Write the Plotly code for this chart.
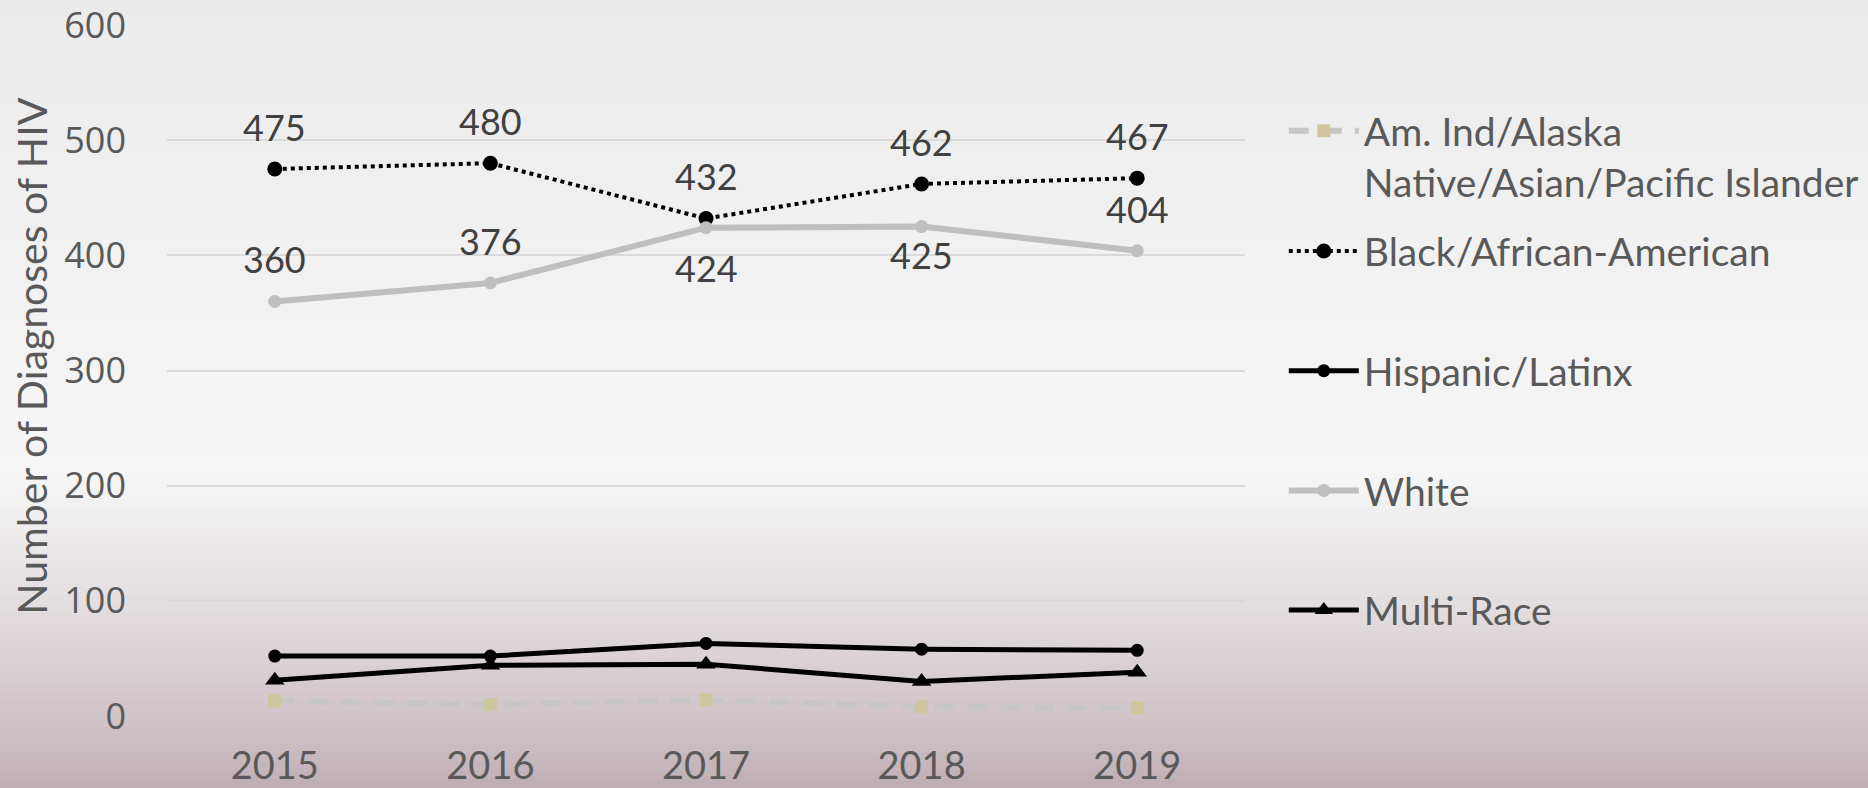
import plotly.graph_objects as go

# Annual new HIV diagnoses by race / ethnicity
years = ["2015", "2016", "2017", "2018", "2019"]
am_ind_aapi = [13, 10, 14, 8, 7]
black = [475, 480, 432, 462, 467]
hispanic = [52, 52, 63, 58, 57]
white = [360, 376, 424, 425, 404]
multi_race = [31, 44, 45, 30, 38]

y_ticks = [0, 100, 200, 300, 400, 500, 600]

TXT = "#595959"
W, H = 1868, 788
M_L, M_R, M_T, M_B = 167, 623, 25, 72

fig = go.Figure()

fig.add_trace(go.Scatter(
    x=years, y=am_ind_aapi, name="Am. Ind/Alaska<br>Native/Asian/Pacific Islander",
    mode="lines+markers", legend="legend2",
    line=dict(color="#c6c6c6", width=6, dash="20px,13px"),
    marker=dict(symbol="square", size=13, color="#cfc69f"),
))
fig.add_trace(go.Scatter(
    x=years, y=black, name="Black/African-American",
    mode="lines+markers", legendgroup="b",
    line=dict(color="#000000", width=4, dash="dot"),
    marker=dict(symbol="circle", size=15, color="#000000"),
))
fig.add_trace(go.Scatter(
    x=years, y=hispanic, name="Hispanic/Latinx",
    mode="lines+markers", legendgroup="c",
    line=dict(color="#000000", width=5),
    marker=dict(symbol="circle", size=13, color="#000000"),
))
fig.add_trace(go.Scatter(
    x=years, y=white, name="White",
    mode="lines+markers", legendgroup="d",
    line=dict(color="#bfbfbf", width=6),
    marker=dict(symbol="circle", size=13, color="#bfbfbf"),
))
fig.add_trace(go.Scatter(
    x=years, y=multi_race, name="Multi-Race",
    mode="lines+markers", legendgroup="e",
    line=dict(color="#000000", width=5),
    marker=dict(symbol="triangle-up", size=17, color="#000000"),
))

# value labels for the two large series
label_font = dict(family="Lato, sans-serif", size=36, color="#404040")
annotations = []
for i, v in enumerate(black):
    annotations.append(dict(x=i, y=v, xref="x", yref="y", text=str(v), showarrow=False,
                            yshift=42, font=label_font))
white_below = {"2017": -40, "2018": -28}
for i, (yr, v) in enumerate(zip(years, white)):
    shift = white_below.get(yr, 42)
    annotations.append(dict(x=i, y=v, xref="x", yref="y", text=str(v), showarrow=False,
                            yshift=shift, font=label_font))

# y-axis title
annotations.append(dict(
    text="Number of Diagnoses of HIV", textangle=-90, showarrow=False,
    xref="paper", yref="paper", x=-0.1252, y=0.52, xanchor="center", yanchor="middle",
    font=dict(family="Lato, sans-serif", size=41, color=TXT),
))

# soft background: light grey fading into a muted mauve at the bottom
def mix(c1, c2, t):
    return "rgb(%d,%d,%d)" % tuple(round(a + (b - a) * t) for a, b in zip(c1, c2))

def to_paper(f):
    # f: 0 = bottom of page, 1 = top of page
    return (f * H - M_B) / (H - M_T - M_B)

shapes = []
top_c, mid_c, bot_c = (235, 235, 236), (246, 246, 246), (188, 172, 178)
n = 90
for i in range(n):
    f0, f1 = i / n, (i + 1) / n
    fc = (f0 + f1) / 2
    if fc < 0.4:
        col = mix(bot_c, mid_c, (fc / 0.4) ** 0.75)
    else:
        col = mix(mid_c, top_c, (fc - 0.4) / 0.6)
    shapes.append(dict(type="rect", xref="paper", yref="paper", x0=-0.3, x1=1.7,
                       y0=to_paper(f0), y1=to_paper(f1) + 0.003,
                       fillcolor=col, line=dict(width=0), layer="below"))

legend_font = dict(family="Lato, sans-serif", size=39, color=TXT)

fig.update_layout(
    width=W, height=H,
    margin=dict(l=M_L, r=M_R, t=M_T, b=M_B, autoexpand=False),
    paper_bgcolor="#eeeeee",
    plot_bgcolor="rgba(0,0,0,0)",
    shapes=shapes,
    annotations=annotations,
    showlegend=True,
    legend2=dict(
        x=1.036, y=0.893, xanchor="left", yanchor="top", valign="top",
        font=legend_font, bgcolor="rgba(0,0,0,0)", itemwidth=70,
    ),
    legend=dict(
        x=1.036, y=0.719, xanchor="left", yanchor="top",
        traceorder="grouped", tracegroupgap=66, valign="top",
        font=legend_font, bgcolor="rgba(0,0,0,0)", itemwidth=70,
    ),
    xaxis=dict(
        type="category", range=[-0.5, 4.5], showgrid=False, zeroline=False,
        showline=False, ticks="", automargin=False,
        tickfont=dict(family="Lato, sans-serif", size=38, color=TXT),
        ticklabelstandoff=24,
    ),
    yaxis=dict(
        range=[0, 600], tickvals=y_ticks, showgrid=True, gridcolor="#dadada", gridwidth=2,
        zeroline=False, showline=False, ticks="", automargin=False,
        ticklabeloverflow="allow",
        tickfont=dict(family="Open Sans, sans-serif", size=36, color=TXT),
        ticklabelstandoff=40,
    ),
)

fig.write_html("out.html")
